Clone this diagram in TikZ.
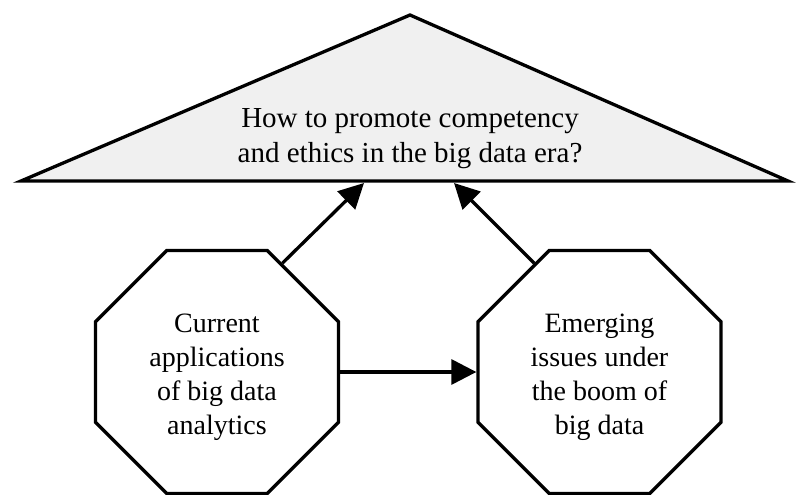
\documentclass[tikz,border=0pt]{standalone}
\usepackage{fontspec}
\setmainfont{Liberation Serif}
\usetikzlibrary{shapes.geometric,arrows.meta}
\definecolor{trifill}{RGB}{240,240,240}
\begin{document}
\begin{tikzpicture}[x=1pt,y=-1pt,
  octa/.style={regular polygon, regular polygon sides=8, minimum size=263pt, inner sep=0pt, draw, line width=3.3pt, fill=white},
  lbl/.style={align=center, inner sep=0pt, font=\fontsize{28}{34}\selectfont},
  toplbl/.style={align=center, inner sep=0pt, font=\fontsize{29}{35}\selectfont},
  conn/.style={line width=3.3pt, -{Triangle[length=25pt,width=25pt]}},
]
\useasboundingbox (0,0) rectangle (798,495);
\draw[line width=3.3pt, fill=trifill, line join=miter] (410,15) coordinate (apex) -- (788,181) coordinate (tr) -- (21,181) coordinate (tl) -- cycle;
\node[toplbl] (q) at (410,139) {How to promote competency\\and ethics in the big data era?};
\node[octa] (L) at (217,372) {};
\node[octa] (R) at (599.5,372) {};
\node[lbl] (Lt) at ([yshift=-5pt]L.center) {Current\\applications\\of big data\\analytics};
\node[lbl] (Rt) at ([yshift=-5pt]R.center) {Emerging\\issues under\\the boom of\\big data};
\coordinate (t1) at (364,183);
\coordinate (t2) at (454,183);
\draw[conn] (L.59) -- (t1);
\draw[conn] (R.121) -- (t2);
\draw[conn] (L.east) -- (R.west);
\end{tikzpicture}
\end{document}
